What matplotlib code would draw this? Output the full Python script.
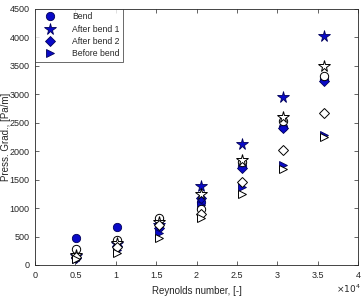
import matplotlib
matplotlib.use("Agg")
import matplotlib.pyplot as plt

reynolds = [5100, 10200, 15400, 20500, 25600, 30700, 35800]

# filled (blue) series
bend = [480, 675, 790, 1110, 1740, 2430, 3270]
after_bend_1 = [150, 370, 700, 1390, 2120, 2960, 4030]
after_bend_2 = [130, 340, 650, 1180, 1700, 2400, 3230]
before_bend = [100, 260, 560, 1060, 1370, 1760, 2280]

# open (white) series
bend_open = [276, 440, 820, 980, 1810, 2530, 3320]
after_bend_1_open = [170, 390, 760, 1250, 1850, 2600, 3500]
after_bend_2_open = [140, 320, 700, 900, 1465, 2030, 2677]
before_bend_open = [100, 210, 470, 820, 1248, 1680, 2250]

labels = ["Bend", "After bend 1", "After bend 2", "Before bend"]
xticks = [0, 5000, 10000, 15000, 20000, 25000, 30000, 35000, 40000]
xticklabels = ["0", "0.5", "1", "1.5", "2", "2.5", "3", "3.5", "4"]
yticks = [0, 500, 1000, 1500, 2000, 2500, 3000, 3500, 4000, 4500]

plt.rcParams['font.family'] = ['Liberation Sans', 'DejaVu Sans']

fig = plt.figure(figsize=(3.63, 2.97), dpi=100)
ax = fig.add_axes([35/363, 32/297, 323/363, 256/297])

blue_face = '#0a0ac8'
blue_edge = '#00005a'
markers = ['o', '*', 'D', '>']
sizes = [6, 8.5, 5, 6]

filled = [bend, after_bend_1, after_bend_2, before_bend]
opened = [bend_open, after_bend_1_open, after_bend_2_open, before_bend_open]

handles = []
for vals, m, s, lab in zip(filled, markers, sizes, labels):
    h, = ax.plot(reynolds, vals, linestyle='none', marker=m, markersize=s,
                 markerfacecolor=blue_face, markeredgecolor=blue_edge,
                 markeredgewidth=0.6, label=lab, zorder=3)
    handles.append(h)
for vals, m, s in zip(opened, markers, sizes):
    ax.plot(reynolds, vals, linestyle='none', marker=m, markersize=s,
            markerfacecolor='white', markeredgecolor='black',
            markeredgewidth=0.7, zorder=4)

ax.set_xlim(0, 40000)
ax.set_ylim(0, 4500)
ax.set_xticks(xticks)
ax.set_xticklabels(xticklabels)
ax.set_yticks(yticks)

for sp in ax.spines.values():
    sp.set_color('#262626')
    sp.set_linewidth(0.6)
ax.tick_params(direction='in', length=3, width=0.5, colors='#262626',
               labelsize=6.5, top=True, right=True, pad=4)
for t in ax.get_xticklabels() + ax.get_yticklabels():
    t.set_color('#262626')

ax.set_xlabel("Reynolds number, [-]", fontsize=7, color='#262626', labelpad=5)
ax.set_ylabel("Press. Grad., [Pa/m]", fontsize=7, color='#262626')
ax.yaxis.set_label_coords(-0.075, 0.5)

fig.text(348/363, 2/297, r"$\times10^4$", fontsize=6.5, color='#262626',
         ha='center', va='bottom')

leg = ax.legend(handles=handles, loc='upper left', fontsize=6.2,
                frameon=True, fancybox=False, borderaxespad=0,
                handletextpad=1.3, labelspacing=0.38, borderpad=0.4,
                handlelength=2.6)
leg.get_frame().set_edgecolor('#262626')
leg.get_frame().set_linewidth(0.6)
for t in leg.get_texts():
    t.set_color('#262626')

fig.savefig("out.png", dpi=100)
